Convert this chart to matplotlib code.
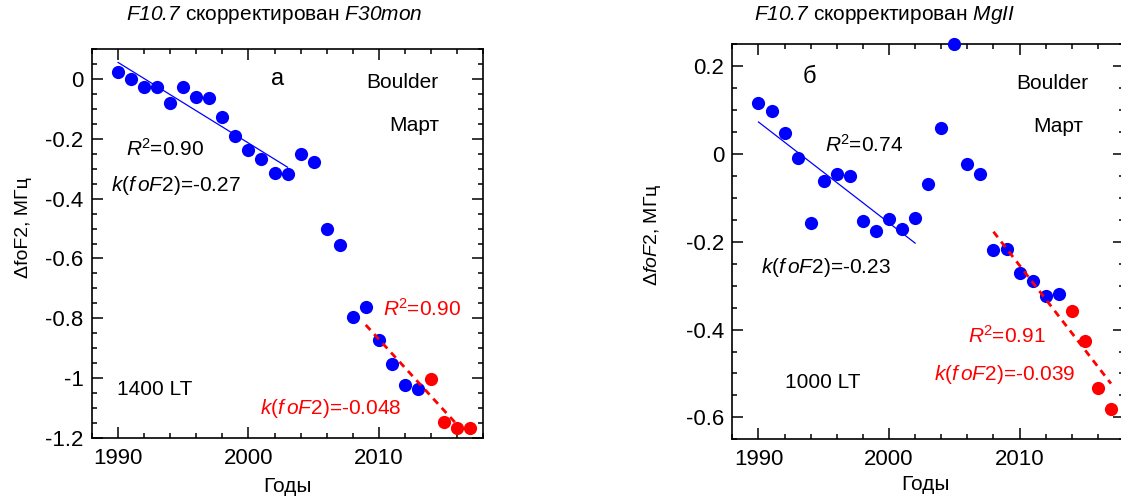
import matplotlib
matplotlib.use("Agg")
import matplotlib.pyplot as plt
from matplotlib.ticker import MultipleLocator, FuncFormatter

plt.rcParams.update({
    "font.family": "Liberation Sans",
    "mathtext.fontset": "custom",
    "mathtext.rm": "Liberation Sans",
    "mathtext.it": "Liberation Sans:italic",
    "mathtext.sf": "Liberation Sans:italic",   # sf slot = italic incl. digits
    "axes.unicode_minus": False,
})

BLUE, RED = "#0000ff", "#ff0000"

# panel а: F10.7 corrected by F30mon, 1400 LT
blue_years_a = list(range(1990, 2014))
blue_a = [0.024, 0.0, -0.028, -0.026, -0.079, -0.026, -0.059, -0.063, -0.128, -0.192,
          -0.239, -0.269, -0.314, -0.319, -0.251, -0.279, -0.501, -0.556, -0.797, -0.763,
          -0.872, -0.952, -1.024, -1.036]
red_years_a = [2014, 2015, 2016, 2017]
red_a = [-1.004, -1.148, -1.168, -1.165]
fit1_years_a, fit1_a = [1990, 2003], [0.055, -0.295]
fit2_years_a, fit2_a = [2009, 2016], [-0.822, -1.155]

# panel б: F10.7 corrected by MgII, 1000 LT
blue_years_b = list(range(1990, 2014))
blue_b = [0.117, 0.098, 0.047, -0.009, -0.158, -0.061, -0.045, -0.049, -0.152, -0.176,
          -0.149, -0.171, -0.146, -0.068, 0.059, 0.25, -0.023, -0.045, -0.218, -0.217,
          -0.272, -0.289, -0.324, -0.319]
red_years_b = [2014, 2015, 2016, 2017]
red_b = [-0.358, -0.425, -0.534, -0.580]
fit1_years_b, fit1_b = [1990, 2002], [0.073, -0.203]
fit2_years_b, fit2_b = [2008, 2017], [-0.177, -0.523]

FS = 15
fmt = FuncFormatter(lambda v, p: f"{round(v, 2) + 0.0:g}")


def style(ax, ylim, ymaj):
    ax.set_xlim(1988, 2018)
    ax.set_ylim(*ylim)
    ax.xaxis.set_major_locator(MultipleLocator(10))
    ax.xaxis.set_minor_locator(MultipleLocator(2))
    ax.yaxis.set_major_locator(MultipleLocator(ymaj))
    ax.yaxis.set_minor_locator(MultipleLocator(0.05))
    ax.yaxis.set_major_formatter(fmt)
    ax.tick_params(which="both", direction="in", top=True, right=True, labelsize=16, width=1.1)
    ax.tick_params(which="major", length=8)
    ax.tick_params(which="minor", length=3.5)
    ax.tick_params(axis="x", pad=7)
    ax.tick_params(axis="y", pad=6)
    for s in ax.spines.values():
        s.set_linewidth(1.2)


def panel(ax, by, bv, ry, rv, f1x, f1y, f2x, f2y):
    ax.plot(by, bv, "o", color=BLUE, ms=9.5, mec="none", clip_on=False, zorder=3)
    ax.plot(ry, rv, "o", color=RED, ms=9.5, mec="none", clip_on=False, zorder=3)
    ax.plot(f1x, f1y, "-", color=BLUE, lw=0.9, zorder=4)
    ax.plot(f2x, f2y, color=RED, lw=2, ls=(0, (2.5, 2)), zorder=4)


fig = plt.figure(figsize=(11.21, 4.99), dpi=100)
axa = fig.add_axes([0.0821, 0.1222, 0.3488, 0.7796])
axb = fig.add_axes([0.6533, 0.1196, 0.3494, 0.7916])

panel(axa, blue_years_a, blue_a, red_years_a, red_a, fit1_years_a, fit1_a, fit2_years_a, fit2_a)
style(axa, (-1.2, 0.1), 0.2)
axa.text(2002.2, 0.0, "а", fontsize=FS + 2, ha="center", va="center")
axa.text(2011.8, -0.011, "Boulder", fontsize=FS, ha="center", va="center")
axa.text(2012.7, -0.156, "Март", fontsize=FS, ha="center", va="center")
axa.text(1993.6, -0.233, r"$\mathsf{R}^{2}$=0.90", fontsize=FS, ha="center", va="center")
axa.text(1994.4, -0.356, r"$\mathsf{k}$($\mathsf{f\,oF}$2)=-0.27", fontsize=FS, ha="center", va="center")
axa.text(2013.3, -0.767, r"$\mathsf{R}^{2}$=0.90", fontsize=FS, ha="center", va="center", color=RED)
axa.text(2006.3, -1.10, r"$\mathsf{k}$($\mathsf{f\,oF}$2)=-0.048", fontsize=FS, ha="center", va="center", color=RED)
axa.text(1992.8, -1.039, "1400 LT", fontsize=FS, ha="center", va="center")
axa.set_xlabel("Годы", fontsize=FS)
axa.xaxis.set_label_coords(0.5, -0.1)
axa.xaxis.label.set_va("top")
axa.set_ylabel("ΔfoF2, МГц", fontsize=14)
axa.yaxis.set_label_coords(-0.153, 0.54)

panel(axb, blue_years_b, blue_b, red_years_b, red_b, fit1_years_b, fit1_b, fit2_years_b, fit2_b)
style(axb, (-0.65, 0.25), 0.2)
axb.text(1993.9, 0.176, "б", fontsize=FS + 2, ha="center", va="center")
axb.text(2012.5, 0.161, "Boulder", fontsize=FS, ha="center", va="center")
axb.text(2013.0, 0.062, "Март", fontsize=FS, ha="center", va="center")
axb.text(1998.1, 0.022, r"$\mathsf{R}^{2}$=0.74", fontsize=FS, ha="center", va="center")
axb.text(1995.2, -0.258, r"$\mathsf{k}$($\mathsf{f\,oF}$2)=-0.23", fontsize=FS, ha="center", va="center")
axb.text(2009.0, -0.414, r"$\mathsf{R}^{2}$=0.91", fontsize=FS, ha="center", va="center", color=RED)
axb.text(2008.85, -0.502, r"$\mathsf{k}$($\mathsf{f\,oF}$2)=-0.039", fontsize=FS, ha="center", va="center", color=RED)
axb.text(1994.9, -0.521, "1000 LT", fontsize=FS, ha="center", va="center")
axb.set_xlabel("Годы", fontsize=FS)
axb.xaxis.set_label_coords(0.494, -0.09)
axb.xaxis.label.set_va("top")
axb.set_ylabel(r"Δ$\mathsf{foF}$2, МГц", fontsize=14)
axb.yaxis.set_label_coords(-0.176, 0.517)

fig.text(274 / 1121, 1 - 15 / 499, r"$\mathsf{F10.7}$ скорректирован $\mathsf{F30mon}$",
         fontsize=FS, ha="center", va="center")
fig.text(885 / 1121, 1 - 15 / 499, r"$\mathsf{F10.7}$ скорректирован $\mathsf{MgII}$",
         fontsize=FS, ha="center", va="center")

fig.savefig("out.png", dpi=100)
